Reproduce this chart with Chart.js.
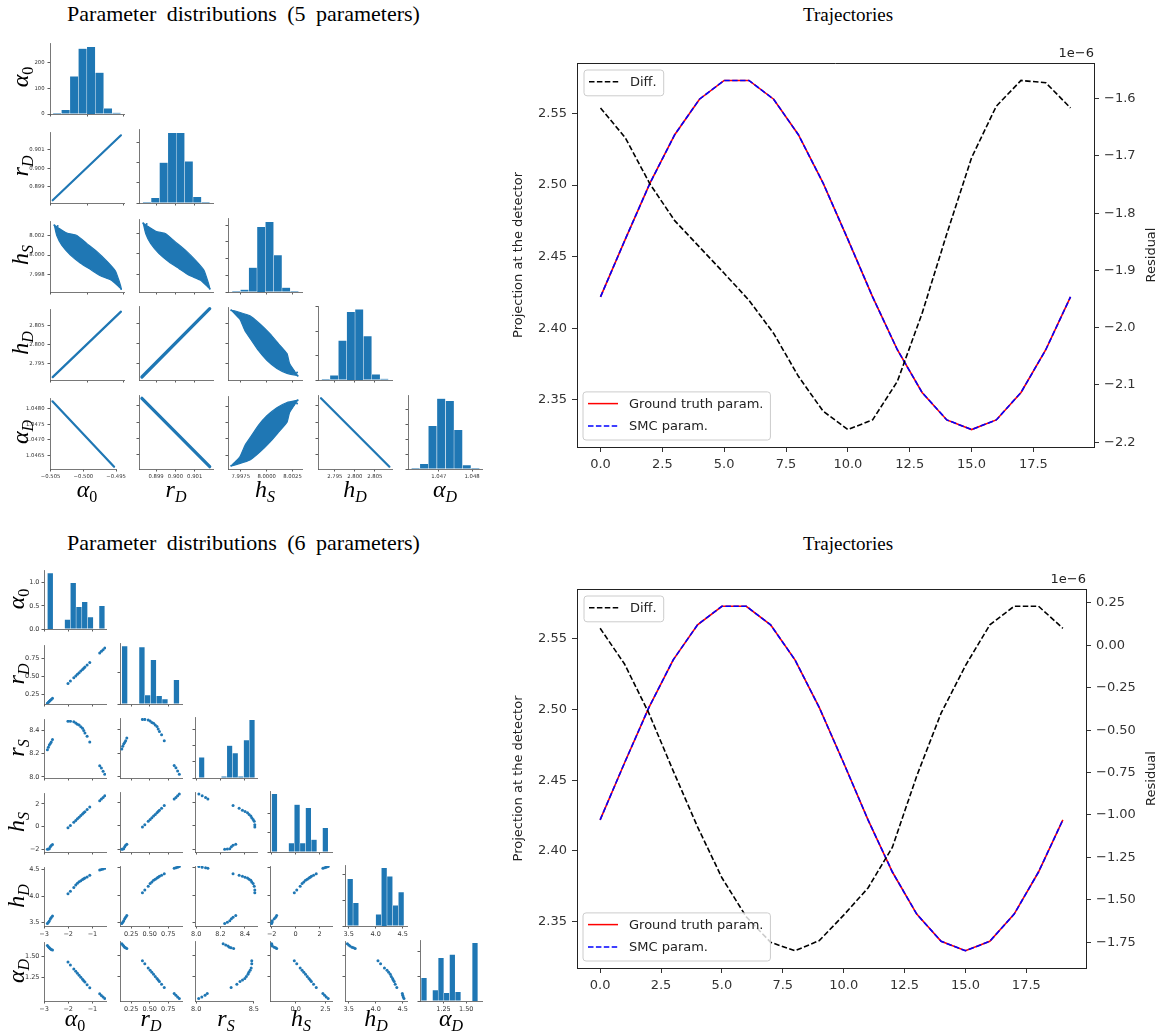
<!DOCTYPE html>
<html lang="en">
<head>
<meta charset="UTF-8">
<title>Parameter distributions and trajectories</title>
<script src="https://cdn.jsdelivr.net/npm/chart.js"></script>
<style>
    * { margin: 0; padding: 0; box-sizing: border-box; }
    body { background: #fff; width: 1165px; height: 1033px; overflow: hidden; }
    #fig { position: relative; width: 1165px; height: 1033px; background: #fff; }
    .pane { position: absolute; }
    .title { position: absolute; font-family: 'Liberation Serif', serif; font-size: 22px; color: #000;
             white-space: nowrap; transform: translate(-50%, -50%); line-height: 1; word-spacing: 5px; }
    .title.short { font-size: 19px; word-spacing: 0; }
    .mlab { position: absolute; font-family: 'Liberation Serif', serif; font-size: 24px; color: #000;
            white-space: nowrap; line-height: 1; }
    .mlab sub { font-size: 16px; line-height: 1; vertical-align: -5px; }
    .xlab { transform: translate(-50%, -50%); }
    .ylab { transform: translate(-50%, -50%) rotate(-90deg); }
</style>
</head>
<body>
<div id="fig"></div>
<script>
// ---------------- 5 parameter run: corner plot ----------------
const a0Ticks5 = [-0.505, -0.500, -0.495];
const rDTicks5 = [0.899, 0.900, 0.901];
const hSTicksX5 = [7.9975, 8.0000, 8.0025];
const hSTicksY5 = [7.998, 8.000, 8.002];
const hDTicks5 = [2.795, 2.800, 2.805];
const aDTicksX5 = [1.047, 1.048];
const aDTicksY5 = [1.0465, 1.0470, 1.0475, 1.0480];

// histograms (bin edges, counts)
const a0Edges5 = [-0.50470, -0.50353, -0.50236, -0.50119, -0.50002, -0.49886, -0.49769, -0.49652, -0.49535];
const a0Counts5 = [2, 16, 146, 253, 260, 160, 22, 4];
const rDEdges5 = [0.89830, 0.89874, 0.89917, 0.89961, 0.90004, 0.90048, 0.90091, 0.90135, 0.90178];
const rDCounts5 = [2, 25, 199, 345, 345, 205, 30, 3];
const hSEdges5 = [7.99665, 7.99746, 7.99826, 7.99907, 7.99987, 8.00068, 8.00148, 8.00229, 8.00309];
const hSCounts5 = [1, 7, 73, 195, 210, 110, 13, 2];
const hDEdges5 = [2.79170, 2.79379, 2.79588, 2.79797, 2.80006, 2.80215, 2.80424, 2.80633, 2.80842];
const hDCounts5 = [1, 19, 162, 279, 289, 180, 23, 5];
const aDEdges5 = [1.04617, 1.04643, 1.04668, 1.04694, 1.04720, 1.04746, 1.04771, 1.04797, 1.04823];
const aDCounts5 = [2, 17, 144, 235, 228, 131, 13, 1];

// end points of the perfectly correlated sample lines
const a0Ends5 = [-0.50473, -0.49532];
const rDEnds5 = [0.89826, 0.90178];
const hDEnds5 = [2.79155, 2.80865];
const aDEnds5 = [1.04823, 1.04614];

// outline of the h_S sample cloud, one vertex list per variable
const cloudA0 = [-0.50450, -0.50278, -0.50139, -0.50001, -0.49862, -0.49723, -0.49608, -0.49529, -0.49654, -0.49816, -0.49955, -0.50094, -0.50232, -0.50348, -0.50417];
const cloudRD = [0.89833, 0.89898, 0.89950, 0.90001, 0.90053, 0.90105, 0.90148, 0.90178, 0.90131, 0.90071, 0.90019, 0.89967, 0.89915, 0.89872, 0.89846];
const cloudHS = [8.00300, 8.00222, 8.00197, 8.00115, 8.00034, 7.99936, 7.99839, 7.99661, 7.99741, 7.99790, 7.99855, 7.99920, 8.00002, 8.00099, 8.00197];
const cloudHD = [2.79188, 2.79498, 2.79748, 2.79998, 2.80248, 2.80498, 2.80705, 2.80848, 2.80623, 2.80330, 2.80080, 2.79830, 2.79580, 2.79373, 2.79248];
const cloudAD = [1.04820, 1.04782, 1.04752, 1.04721, 1.04691, 1.04660, 1.04635, 1.04617, 1.04645, 1.04680, 1.04711, 1.04742, 1.04772, 1.04797, 1.04813];
// sparse samples at both ends of the h_S cloud
const outA0 = [-0.50450, -0.50427, -0.50404, -0.50381, -0.50349, -0.49632, -0.49608, -0.49576, -0.49553, -0.49530];
const outRD = [0.89833, 0.89842, 0.89851, 0.89859, 0.89872, 0.90140, 0.90148, 0.90160, 0.90169, 0.90178];
const outHS = [8.00300, 8.00281, 8.00294, 8.00261, 8.00242, 7.99748, 7.99725, 7.99709, 7.99683, 7.99657];
const outHD = [2.79188, 2.79230, 2.79272, 2.79313, 2.79372, 2.80663, 2.80705, 2.80763, 2.80805, 2.80848];
const outAD = [1.04820, 1.04815, 1.04810, 1.04805, 1.04797, 1.04640, 1.04635, 1.04628, 1.04623, 1.04617];

// ---------------- 6 parameter run: corner plot ----------------
const a0P = [-2.86, -2.82, -2.78, -2.74, -2.70, -2.65, -2.01, -1.91, -1.77, -1.69, -1.62, -1.55, -1.48, -1.41, -1.36, -1.31, -1.22, -1.11, -0.70, -0.63, -0.56, -0.49];
const rDP = [0.124, 0.137, 0.150, 0.163, 0.176, 0.192, 0.402, 0.434, 0.480, 0.506, 0.529, 0.552, 0.575, 0.598, 0.614, 0.631, 0.660, 0.696, 0.830, 0.853, 0.876, 0.899];
const rSP = [8.234, 8.256, 8.276, 8.289, 8.303, 8.325, 8.482, 8.482, 8.477, 8.468, 8.457, 8.449, 8.435, 8.422, 8.402, 8.380, 8.353, 8.303, 8.096, 8.077, 8.049, 8.022];
const hSP = [-2.003, -1.977, -1.952, -1.784, -1.666, -1.582, -0.109, 0.095, 0.380, 0.543, 0.685, 0.828, 0.970, 1.113, 1.215, 1.317, 1.500, 1.724, 2.28, 2.42, 2.56, 2.72];
const hDP = [3.477, 3.501, 3.526, 3.562, 3.591, 3.622, 4.043, 4.091, 4.163, 4.211, 4.241, 4.271, 4.289, 4.313, 4.325, 4.343, 4.362, 4.392, 4.493, 4.501, 4.511, 4.524];
const aDP = [1.628, 1.615, 1.602, 1.590, 1.582, 1.575, 1.434, 1.400, 1.353, 1.326, 1.302, 1.279, 1.255, 1.231, 1.214, 1.198, 1.167, 1.130, 1.060, 1.041, 1.022, 1.004];

const a0Edges6 = [-2.860, -2.623, -2.386, -2.149, -1.912, -1.675, -1.438, -1.201, -0.964, -0.727, -0.490];
const a0Dens6 = [1.207, 0, 0, 0.206, 1.000, 0.480, 0.590, 0.260, 0, 0.500];
const rDEdges6 = [0.1240, 0.2015, 0.2790, 0.3565, 0.4340, 0.5115, 0.5890, 0.6665, 0.7440, 0.8215, 0.8990];
const rDDens6 = [3.643, 0, 0, 3.581, 0.556, 2.778, 0.512, 0.309, 0, 1.525];
const rSEdges6 = [8.022, 8.068, 8.114, 8.160, 8.206, 8.252, 8.298, 8.344, 8.390, 8.436, 8.482];
const rSDens6 = [2.545, 0, 0, 0, 0.206, 3.963, 3.066, 0.206, 4.642, 7.114];
const hSEdges6 = [-2.003, -1.531, -1.058, -0.586, -0.114, 0.359, 0.831, 1.303, 1.775, 2.248, 2.720];
const hSDens6 = [0.603, 0, 0, 0.094, 0.492, 0.094, 0.458, 0.128, 0, 0.250];
const hDEdges6 = [3.4770, 3.5817, 3.6864, 3.7911, 3.8958, 4.0005, 4.1052, 4.2099, 4.3146, 4.4193, 4.5240];
const hDDens6 = [1.842, 0.907, 0, 0, 0, 0.456, 2.270, 1.947, 0.806, 1.324];
const aDEdges6 = [1.0040, 1.0664, 1.1288, 1.1912, 1.2536, 1.3160, 1.3784, 1.4408, 1.5032, 1.5656, 1.6280];
const aDDens6 = [1.865, 0, 0.881, 3.466, 0.664, 3.738, 0.744, 0, 0, 4.667];

// ---------------- trajectories ----------------
const steps = [0, 1, 2, 3, 4, 5, 6, 7, 8, 9, 10, 11, 12, 13, 14, 15, 16, 17, 18, 19];
const truth5 = [2.4219, 2.4621, 2.5013, 2.5351, 2.5599, 2.5730, 2.5730, 2.5599, 2.5351, 2.5013, 2.4621, 2.4219, 2.3850, 2.3552, 2.3360, 2.3293, 2.3360, 2.3552, 2.3850, 2.4219];
const smc5 = [2.4219, 2.4621, 2.5013, 2.5351, 2.5599, 2.5730, 2.5730, 2.5599, 2.5351, 2.5013, 2.4621, 2.4219, 2.3850, 2.3552, 2.3360, 2.3293, 2.3360, 2.3552, 2.3850, 2.4219];
const diff5 = [-1.616, -1.668, -1.749, -1.813, -1.859, -1.905, -1.952, -2.010, -2.085, -2.146, -2.178, -2.161, -2.094, -1.975, -1.836, -1.703, -1.613, -1.568, -1.572, -1.616]; // x 1e-6
const truth6 = [2.4219, 2.4621, 2.5013, 2.5351, 2.5599, 2.5730, 2.5730, 2.5599, 2.5351, 2.5013, 2.4621, 2.4219, 2.3850, 2.3552, 2.3360, 2.3293, 2.3360, 2.3552, 2.3850, 2.4219];
const smc6 = [2.4219, 2.4621, 2.5013, 2.5351, 2.5599, 2.5730, 2.5730, 2.5599, 2.5351, 2.5013, 2.4621, 2.4219, 2.3850, 2.3552, 2.3360, 2.3293, 2.3360, 2.3552, 2.3850, 2.4219];
const diff6 = [0.10, -0.11, -0.40, -0.74, -1.07, -1.37, -1.60, -1.75, -1.80, -1.74, -1.59, -1.43, -1.19, -0.77, -0.40, -0.12, 0.12, 0.23, 0.23, 0.10]; // x 1e-6
const stepTicks = [0, 2.5, 5, 7.5, 10, 12.5, 15, 17.5];
const projTicks = [2.35, 2.40, 2.45, 2.50, 2.55];
const residTicks5 = [-2.2, -2.1, -2.0, -1.9, -1.8, -1.7, -1.6];
const residTicks6 = [-1.75, -1.50, -1.25, -1.00, -0.75, -0.50, -0.25, 0.00, 0.25];

// ================================================================
Chart.defaults.font.family = "'DejaVu Sans', sans-serif";
Chart.defaults.color = '#333';
const BLUE = '#1f77b4';
const fig = document.getElementById('fig');

function fmt(d) {
    return v => Number(v).toFixed(d).replace('-', '\u2212');
}

function addText(html, x, y, cls) {
    const d = document.createElement('div');
    d.className = cls;
    d.innerHTML = html;
    d.style.left = x + 'px';
    d.style.top = y + 'px';
    fig.appendChild(d);
}

function axisOpts(ax, kind, size, position) {
    return {
        type: 'linear',
        position: position,
        min: ax.min, max: ax.max, bounds: 'data', offset: false,
        grid: { display: true, drawOnChartArea: false, drawTicks: true, tickLength: ax.tickLen,
                tickColor: '#333', tickWidth: ax.tickWidth || 0.8, offset: false },
        border: { display: true, color: ax.borderColor || '#555', width: ax.borderWidth || 0.8 },
        ticks: { display: !!ax.labels, autoSkip: false, maxRotation: 0, minRotation: 0,
                 padding: ax.pad, color: '#333', font: { size: ax.font },
                 callback: v => ax.fmt(v) },
        afterBuildTicks: s => { s.ticks = ax.ticks.map(v => ({ value: v })); },
        afterFit: s => { if (kind === 'x') s.height = size; else s.width = size; }
    };
}

function histData(edges, counts) {
    return counts.map((c, i) => ({ x: (edges[i] + edges[i + 1]) / 2, y: c }));
}

function histSet(edges, counts) {
    return {
        type: 'bar', data: histData(edges, counts), backgroundColor: BLUE,
        borderColor: 'rgba(255,255,255,0.3)', borderWidth: 0.6, inflateAmount: 0.4,
        barPercentage: 1, categoryPercentage: 1
    };
}

function lineSet(xs, ys, width) {
    return {
        type: 'scatter', data: xs.map((x, i) => ({ x: x, y: ys[i] })), showLine: true,
        borderColor: BLUE, borderWidth: width, pointRadius: 0, borderCapStyle: 'round'
    };
}

function cloudSet(xs, ys) {
    const pts = xs.map((x, i) => ({ x: x, y: ys[i] }));
    pts.push(pts[0]);
    return {
        type: 'line', data: pts, fill: 'shape', backgroundColor: BLUE, borderColor: BLUE,
        borderWidth: 1.2, pointRadius: 0, tension: 0.15
    };
}

function pointSet(xs, ys, r) {
    return {
        type: 'scatter', data: xs.map((x, i) => ({ x: x, y: ys[i] })),
        backgroundColor: BLUE, borderWidth: 0, pointRadius: r || 1.5
    };
}

function addPanel(rect, xAx, yAx, datasets, m) {
    const W = rect.w + m.l + m.r, H = rect.h + m.t + m.b;
    const div = document.createElement('div');
    div.className = 'pane';
    div.style.left = (rect.x - m.l) + 'px';
    div.style.top = (rect.y - m.t) + 'px';
    div.style.width = W + 'px';
    div.style.height = H + 'px';
    const cv = document.createElement('canvas');
    cv.width = W; cv.height = H;
    cv.style.width = W + 'px'; cv.style.height = H + 'px';
    div.appendChild(cv);
    fig.appendChild(div);
    return new Chart(cv, {
        type: datasets[0].type,
        data: { datasets: datasets },
        options: {
            responsive: false, animation: false, devicePixelRatio: 1,
            layout: { padding: { left: 0, top: m.t, right: m.r, bottom: 0 } },
            plugins: { legend: { display: false }, tooltip: { enabled: false } },
            scales: { x: axisOpts(xAx, 'x', m.b, 'bottom'), y: axisOpts(yAx, 'y', m.l, 'left') }
        }
    });
}

// ---------------- corner plot, 5 parameters ----------------
const colLeft5 = [50, 139, 228, 318, 408];
const rowTop5 = [40, 129, 218, 306, 395];
const side5 = 74;
const tk5 = { tickLen: 2.5, pad: 2, font: 5.3 };
const xAxes5 = [
    { min: -0.5051, max: -0.4949, ticks: a0Ticks5, fmt: fmt(3) },
    { min: 0.89811, max: 0.90195, ticks: rDTicks5, fmt: fmt(3) },
    { min: 7.99626, max: 8.00342, ticks: hSTicksX5, fmt: fmt(4) },
    { min: 2.7908, max: 2.8093, ticks: hDTicks5, fmt: fmt(3) },
    { min: 1.04607, max: 1.04830, ticks: aDTicksX5, fmt: fmt(3) }
];
const yAxes5 = [
    null,
    { min: 0.89811, max: 0.90195, ticks: rDTicks5, fmt: fmt(3) },
    { min: 7.99626, max: 8.00342, ticks: hSTicksY5, fmt: fmt(3) },
    { min: 2.7908, max: 2.8093, ticks: hDTicks5, fmt: fmt(3) },
    { min: 1.04607, max: 1.04833, ticks: aDTicksY5, fmt: fmt(4) }
];
const diagY5 = [
    { min: 0, max: 274, ticks: [0, 100, 200], fmt: fmt(0) },
    { min: 0, max: 364, ticks: [0, 100, 200, 300], fmt: fmt(0) },
    { min: 0, max: 221, ticks: [0, 50, 100, 150, 200], fmt: fmt(0) },
    { min: 0, max: 303, ticks: [0, 100, 200, 300], fmt: fmt(0) },
    { min: 0, max: 247, ticks: [0, 50, 100, 150, 200], fmt: fmt(0) }
];
const hist5 = [[a0Edges5, a0Counts5], [rDEdges5, rDCounts5], [hSEdges5, hSCounts5], [hDEdges5, hDCounts5], [aDEdges5, aDCounts5]];
const off5 = {
    '10': [lineSet(a0Ends5, rDEnds5, 2.2)],
    '20': [pointSet(outA0, outHS, 1), cloudSet(cloudA0, cloudHS)],
    '21': [pointSet(outRD, outHS, 1), cloudSet(cloudRD, cloudHS)],
    '30': [lineSet(a0Ends5, hDEnds5, 2.2)],
    '31': [lineSet(rDEnds5, hDEnds5, 3.2)],
    '32': [pointSet(outHS, outHD, 1), cloudSet(cloudHS, cloudHD)],
    '40': [lineSet(a0Ends5, aDEnds5, 2.2)],
    '41': [lineSet(rDEnds5, aDEnds5, 3.2)],
    '42': [pointSet(outHS, outAD, 1), cloudSet(cloudHS, cloudAD)],
    '43': [lineSet(hDEnds5, aDEnds5, 2.2)]
};
for (let i = 0; i < 5; i++) {
    for (let j = 0; j <= i; j++) {
        const rect = { x: colLeft5[j], y: rowTop5[i], w: side5, h: side5 };
        const xAx = Object.assign({}, tk5, xAxes5[j], { labels: i === 4 });
        const yBase = i === j ? diagY5[i] : yAxes5[i];
        const yAx = Object.assign({}, tk5, yBase, { labels: j === 0, pad: 3 });
        const ds = i === j ? [histSet(hist5[i][0], hist5[i][1])] : off5['' + i + j];
        addPanel(rect, xAx, yAx, ds, { l: 34, r: 4, t: 3, b: 14 });
    }
}

// ---------------- corner plot, 6 parameters ----------------
const colLeft6 = [44, 120, 195, 270, 345, 420];
const rowTop6 = [568, 643, 717, 791, 865, 940];
const w6 = 62, h6 = 61;
const tk6 = { tickLen: 2.5, pad: 2, font: 6.5 };
const vals6 = [a0P, rDP, rSP, hSP, hDP, aDP];
const xAxes6 = [
    { min: -3.0, max: -0.44, ticks: [-3, -2, -1], fmt: fmt(0) },
    { min: 0.10, max: 0.935, ticks: [0.25, 0.50, 0.75], fmt: fmt(2) },
    { min: 7.99, max: 8.50, ticks: [8.0, 8.2, 8.4], fmt: fmt(1) },
    { min: -2.14, max: 3.04, ticks: [-2, 0, 2], fmt: fmt(0) },
    { min: 3.433, max: 4.58, ticks: [3.5, 4.0, 4.5], fmt: fmt(1) },
    { min: 0.991, max: 1.674, ticks: [1.25, 1.50], fmt: fmt(2) }
];
const lastRowX6 = [
    null, null,
    { ticks: [8.0, 8.5], fmt: fmt(1) },
    { ticks: [0.0, 2.5], fmt: fmt(1) },
    null, null
];
const yAxes6 = [
    null,
    { min: 0.112, max: 0.929, ticks: [0.25, 0.50, 0.75], fmt: fmt(2) },
    { min: 7.99, max: 8.494, ticks: [8.0, 8.2, 8.4], fmt: fmt(1) },
    { min: -2.24, max: 2.88, ticks: [-2, 0, 2], fmt: fmt(0) },
    { min: 3.431, max: 4.533, ticks: [3.5, 4.0, 4.5], fmt: fmt(1) },
    { min: 0.975, max: 1.66, ticks: [1.25, 1.50], fmt: fmt(2) }
];
const diagY6 = [
    { min: 0, max: 1.255, ticks: [0, 0.5, 1.0], fmt: fmt(1) },
    { min: 0, max: 3.83, ticks: [0, 2], fmt: fmt(0) },
    { min: 0, max: 7.47, ticks: [0, 2, 4, 6], fmt: fmt(0) },
    { min: 0, max: 0.633, ticks: [0, 0.2, 0.4], fmt: fmt(1) },
    { min: 0, max: 2.384, ticks: [0, 1, 2], fmt: fmt(0) },
    { min: 0, max: 4.9, ticks: [0, 2, 4], fmt: fmt(0) }
];
const hist6 = [[a0Edges6, a0Dens6], [rDEdges6, rDDens6], [rSEdges6, rSDens6], [hSEdges6, hSDens6], [hDEdges6, hDDens6], [aDEdges6, aDDens6]];
for (let i = 0; i < 6; i++) {
    for (let j = 0; j <= i; j++) {
        const rect = { x: colLeft6[j], y: rowTop6[i], w: w6, h: h6 };
        const xAx = Object.assign({}, tk6, xAxes6[j], (i === 5 && lastRowX6[j]) ? lastRowX6[j] : {}, { labels: i >= 4 });
        const yBase = i === j ? diagY6[i] : yAxes6[i];
        const yAx = Object.assign({}, tk6, yBase, { labels: j === 0, pad: 2 });
        const ds = i === j ? [histSet(hist6[i][0], hist6[i][1])] : [pointSet(vals6[j], vals6[i])];
        addPanel(rect, xAx, yAx, ds, { l: 30, r: 4, t: 3, b: 15 });
    }
}

// ---------------- math axis labels and titles ----------------
const sym5 = ['<i>α</i><sub>0</sub>', '<i>r</i><sub><i>D</i></sub>', '<i>h</i><sub><i>S</i></sub>', '<i>h</i><sub><i>D</i></sub>', '<i>α</i><sub><i>D</i></sub>'];
const sym6 = ['<i>α</i><sub>0</sub>', '<i>r</i><sub><i>D</i></sub>', '<i>r</i><sub><i>S</i></sub>', '<i>h</i><sub><i>S</i></sub>', '<i>h</i><sub><i>D</i></sub>', '<i>α</i><sub><i>D</i></sub>'];
sym5.forEach((s, k) => {
    addText(s, colLeft5[k] + side5 / 2, 491, 'mlab xlab');
    addText(s, 22, rowTop5[k] + side5 / 2, 'mlab ylab');
});
sym6.forEach((s, k) => {
    addText(s, colLeft6[k] + w6 / 2, 1020, 'mlab xlab');
    addText(s, 18, rowTop6[k] + h6 / 2, 'mlab ylab');
});
addText('Parameter distributions (5 parameters)', 243.5, 14, 'title');
addText('Trajectories', 848, 14, 'title short');
addText('Parameter distributions (6 parameters)', 243.5, 543, 'title');
addText('Trajectories', 848, 543, 'title short');

// ---------------- trajectory panels ----------------
function drawLegend(ctx, x, y, items) {
    ctx.font = "13px 'DejaVu Sans'";
    const tw = Math.max(...items.map(it => ctx.measureText(it.label).width));
    const w = 46 + tw + 7, h = 3.5 + 22.3 * items.length;
    ctx.save();
    ctx.beginPath();
    ctx.roundRect(x, y, w, h, 3);
    ctx.fillStyle = 'rgba(255,255,255,0.8)';
    ctx.fill();
    ctx.strokeStyle = '#cccccc';
    ctx.lineWidth = 1;
    ctx.stroke();
    items.forEach((it, k) => {
        const cy = y + 11.7 + k * 22.3;
        ctx.beginPath();
        ctx.setLineDash(it.dash);
        ctx.strokeStyle = it.color;
        ctx.lineWidth = 1.5;
        ctx.moveTo(x + 5, cy);
        ctx.lineTo(x + 35, cy);
        ctx.stroke();
        ctx.setLineDash([]);
        ctx.fillStyle = '#222';
        ctx.textBaseline = 'middle';
        ctx.textAlign = 'left';
        ctx.fillText(it.label, x + 46, cy + 1);
    });
    ctx.restore();
}

const DASH = [5.5, 2.4];

function trajChart(area, truth, smc, diff, rAx, residOffset) {
    const L = area.x - 500, T = 23, B = 58;
    const R = 665 - L - area.w;
    const W = 665, H = T + area.h + B;
    const div = document.createElement('div');
    div.className = 'pane';
    div.style.left = '500px';
    div.style.top = (area.y - T) + 'px';
    const cv = document.createElement('canvas');
    cv.width = W; cv.height = H;
    cv.style.width = W + 'px'; cv.style.height = H + 'px';
    div.appendChild(cv);
    fig.appendChild(div);
    const tk = { tickLen: 5, pad: 5, font: 13, labels: true, borderColor: '#222', borderWidth: 1, tickWidth: 1 };
    const decor = {
        id: 'decor',
        afterDraw(chart) {
            const ctx = chart.ctx, a = chart.chartArea;
            ctx.save();
            ctx.strokeStyle = '#222';
            ctx.lineWidth = 1;
            ctx.beginPath();
            ctx.moveTo(a.left, a.top + 0.5);
            ctx.lineTo(a.right, a.top + 0.5);
            ctx.stroke();
            ctx.fillStyle = '#222';
            ctx.font = "13px 'DejaVu Sans'";
            ctx.textAlign = 'right';
            ctx.textBaseline = 'bottom';
            ctx.fillText('1e\u22126', a.right, a.top - 3);
            ctx.textAlign = 'center';
            ctx.textBaseline = 'middle';
            ctx.translate(a.left - 58, (a.top + a.bottom) / 2);
            ctx.rotate(-Math.PI / 2);
            ctx.fillText('Projection at the detector', 0, 0);
            ctx.setTransform(1, 0, 0, 1, 0, 0);
            ctx.translate(a.right + residOffset, (a.top + a.bottom) / 2);
            ctx.rotate(-Math.PI / 2);
            ctx.fillText('Residual', 0, 0);
            ctx.restore();
            drawLegend(ctx, a.left + 7, a.top + 7, [{ label: 'Diff.', color: '#000', dash: DASH }]);
            drawLegend(ctx, a.left + 6, a.bottom - 7 - (3.5 + 22.3 * 2), [
                { label: 'Ground truth param.', color: '#ff0000', dash: [] },
                { label: 'SMC param.', color: '#0000ff', dash: DASH }
            ]);
        }
    };
    return new Chart(cv, {
        type: 'line',
        data: {
            datasets: [
                { label: 'Diff.', data: steps.map((s, i) => ({ x: s, y: diff[i] })), yAxisID: 'y2',
                  borderColor: '#000', borderDash: DASH, borderWidth: 1.6, pointRadius: 0, fill: false },
                { label: 'SMC param.', data: steps.map((s, i) => ({ x: s, y: smc[i] })), yAxisID: 'y',
                  borderColor: '#0000ff', borderDash: DASH, borderWidth: 1.6, pointRadius: 0, fill: false },
                { label: 'Ground truth param.', data: steps.map((s, i) => ({ x: s, y: truth[i] })), yAxisID: 'y',
                  borderColor: '#ff0000', borderWidth: 1.6, pointRadius: 0, fill: false }
            ]
        },
        options: {
            responsive: false, animation: false, devicePixelRatio: 1,
            layout: { padding: { top: T, left: 0, right: 0, bottom: 0 } },
            plugins: { legend: { display: false }, tooltip: { enabled: false } },
            scales: {
                x: axisOpts(Object.assign({}, tk, { min: -0.95, max: 19.95, ticks: stepTicks, fmt: fmt(1) }), 'x', B, 'bottom'),
                y: axisOpts(Object.assign({}, tk, { min: 2.3171, max: 2.5852, ticks: projTicks, fmt: fmt(2) }), 'y', L, 'left'),
                y2: axisOpts(Object.assign({}, tk, rAx), 'y', R, 'right')
            }
        },
        plugins: [decor]
    });
}

trajChart({ x: 577, y: 63, w: 517, h: 384 }, truth5, smc5, diff5,
    { min: -2.2085, max: -1.5375, ticks: residTicks5, fmt: fmt(1) }, 58);
trajChart({ x: 577, y: 589, w: 509, h: 379 }, truth6, smc6, diff6,
    { min: -1.9015, max: 0.3315, ticks: residTicks6, fmt: fmt(2) }, 66);
</script>
</body>
</html>
